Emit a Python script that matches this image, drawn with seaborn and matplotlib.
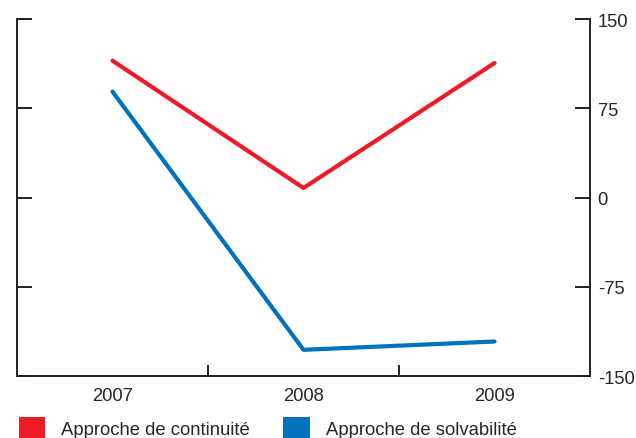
import matplotlib.pyplot as plt
import numpy as np
import pandas as pd
import seaborn as sns
from matplotlib.patches import Patch

years = ['2007', '2008', '2009']
continuite = [115, 8, 113]
solvabilite = [89, -128, -121]
series_names = ['Approche de continuité', 'Approche de solvabilité']
colors = ['#ED1C24', '#0071BC']
y_ticks = [-150, -75, 0, 75, 150]

df = pd.DataFrame({
    'x': list(range(len(years))) * 2,
    'valeur': continuite + solvabilite,
    'serie': [series_names[0]] * 3 + [series_names[1]] * 3,
})

sns.set_style('white')
plt.rcParams['font.family'] = ['Liberation Sans', 'DejaVu Sans']

fig = plt.figure(figsize=(6.36, 4.39), dpi=100)
ax = fig.add_axes([0.0267, 0.1412, 0.9010, 0.8132])

sns.lineplot(data=df, x='x', y='valeur', hue='serie', palette=colors,
             linewidth=3, legend=False, ax=ax)

spine_col = '#231F20'
for side in ['left', 'right', 'bottom']:
    ax.spines[side].set_color(spine_col)
    ax.spines[side].set_linewidth(1.4)
ax.spines['top'].set_visible(False)

ax.set_xlim(-0.5, 2.5)
ax.set_ylim(-150, 150)
ax.set_yticks(y_ticks)
ax.set_yticklabels([str(v) for v in y_ticks])
ax.tick_params(axis='y', left=True, right=True, labelleft=False, labelright=True,
               direction='in', length=11, width=1.4, color=spine_col,
               labelsize=13.2, pad=5.5)

ax.set_xticks(range(len(years)))
ax.set_xticklabels(years)
ax.set_xticks([0.5, 1.5], minor=True)
ax.tick_params(axis='x', which='major', length=0, labelsize=13.2, pad=8)
ax.tick_params(axis='x', which='minor', bottom=True, direction='in', length=8,
               width=1.4, color=spine_col)
ax.set_xlabel('')
ax.set_ylabel('')

handles = [Patch(facecolor=c, edgecolor='none') for c in colors]
fig.legend(handles, series_names, loc='lower left', bbox_to_anchor=(0.003, -0.039),
           ncol=2, frameon=False, fontsize=13.3, handlelength=1.45, handleheight=1.45,
           handletextpad=0.85, columnspacing=1.8)

fig.savefig('out.png', dpi=100)
